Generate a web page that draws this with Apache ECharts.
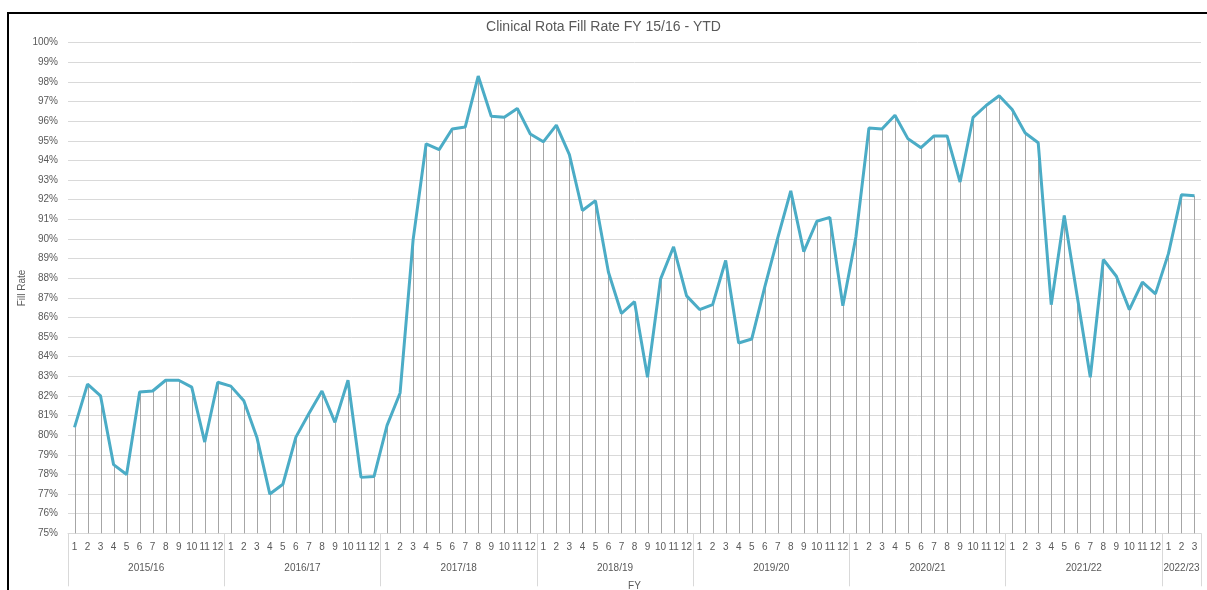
<!DOCTYPE html>
<html lang="en">
<head>
    <meta charset="utf-8">
    <title>Clinical Rota Fill Rate</title>
    <script src="https://cdn.jsdelivr.net/npm/echarts@6/dist/echarts.min.js"></script>
    <style>
        html, body { margin: 0; padding: 0; background: #fff; }
        #chart { width: 1207px; height: 590px; }
    </style>
</head>
<body>
<div id="chart"></div>
<script>
// fill rate (%) per month, one array per financial year
var fy1516 = [80.4, 82.6, 82.0, 78.5, 78.0, 82.2, 82.25, 82.8, 82.8, 82.45, 79.65, 82.7];
var fy1617 = [82.5, 81.75, 79.9, 77.0, 77.5, 79.9, 81.1, 82.25, 80.65, 82.8, 77.85, 77.9];
var fy1718 = [80.5, 82.15, 89.95, 94.85, 94.55, 95.6, 95.7, 98.3, 96.25, 96.2, 96.65, 95.35];
var fy1819 = [94.95, 95.8, 94.3, 91.45, 91.95, 88.3, 86.2, 86.8, 82.95, 87.95, 89.6, 87.1];
var fy1920 = [86.4, 86.65, 88.9, 84.7, 84.9, 87.55, 90.05, 92.45, 89.35, 90.9, 91.1, 86.6];
var fy2021 = [90.1, 95.65, 95.6, 96.3, 95.1, 94.65, 95.25, 95.25, 92.9, 96.2, 96.8, 97.3];
var fy2122 = [96.6, 95.4, 94.9, 86.65, 91.2, 87.05, 82.95, 88.95, 88.1, 86.4, 87.8, 87.2];
var fy2223 = [89.25, 92.25, 92.2];

var fyLabels = ['2015/16', '2016/17', '2017/18', '2018/19', '2019/20', '2020/21', '2021/22', '2022/23'];
var fyData = [fy1516, fy1617, fy1718, fy1819, fy1920, fy2021, fy2122, fy2223];

var yMin = 75, yMax = 100;

var months = [], values = [], groupEdges = [0], groupMids = [], midName = {};
var n = 0;
fyData.forEach(function (arr, g) {
    var start = n;
    arr.forEach(function (v, i) {
        months.push(String(i + 1));
        values.push(v);
        n++;
    });
    groupEdges.push(n);
    var mid = (start + n) / 2;
    groupMids.push(mid);
    midName[mid] = fyLabels[g];
});

var txt = '#595959';
var font = 'Liberation Sans';

var chart = echarts.init(document.getElementById('chart'));
chart.setOption({
    animation: false,
    textStyle: { fontFamily: font },
    title: {
        text: 'Clinical Rota Fill Rate FY 15/16 - YTD',
        left: 'center',
        top: 15,
        textStyle: { fontSize: 14, fontWeight: 'normal', color: txt, fontFamily: font }
    },
    graphic: [{
        type: 'rect',
        shape: { x: 8, y: 13, width: 1260, height: 640 },
        style: { fill: 'none', stroke: '#000', lineWidth: 2 },
        silent: true
    }, {
        // y axis title
        type: 'text',
        x: 22,
        y: 288,
        rotation: Math.PI / 2,
        style: {
            text: 'Fill Rate',
            fill: txt,
            font: '10px "Liberation Sans"',
            align: 'center',
            verticalAlign: 'middle'
        },
        silent: true
    }],
    grid: { left: 68, right: 6, top: 42.7, bottom: 56.7, outerBoundsMode: 'none', containLabel: false },
    xAxis: [{
        type: 'category',
        data: months,
        boundaryGap: true,
        axisLine: { lineStyle: { color: '#d9d9d9' } },
        axisTick: { show: false },
        axisLabel: { interval: 0, fontSize: 10, color: txt, margin: 9 }
    }, {
        type: 'value',
        min: 0,
        max: n,
        position: 'bottom',
        name: 'FY',
        nameLocation: 'middle',
        nameGap: 48,
        nameTextStyle: { fontSize: 10, color: txt },
        axisLine: { show: false },
        splitLine: { show: false },
        axisTick: {
            show: true,
            length: 53,
            customValues: groupEdges,
            lineStyle: { color: '#d9d9d9' }
        },
        axisLabel: {
            customValues: groupMids,
            fontSize: 10,
            color: txt,
            margin: 30,
            formatter: function (v) { return midName[v] || ''; }
        }
    }],
    yAxis: {
        type: 'value',
        min: yMin,
        max: yMax,
        interval: 1,
        axisLine: { show: false },
        axisTick: { show: false },
        axisLabel: { fontSize: 10, color: txt, margin: 10, formatter: function (v) { return v + '%'; } },
        splitLine: { lineStyle: { color: '#d9d9d9' } }
    },
    series: [{
        type: 'custom',
        xAxisIndex: 0,
        data: values.map(function (v, i) { return [i, v]; }),
        renderItem: function (params, api) {
            var top = api.coord([api.value(0), api.value(1)]);
            var bot = api.coord([api.value(0), yMin]);
            return {
                type: 'line',
                shape: { x1: Math.round(top[0]) + 0.5, y1: top[1], x2: Math.round(bot[0]) + 0.5, y2: bot[1] },
                style: { stroke: '#a6a6a6', lineWidth: 1 }
            };
        },
        z: 1
    }, {
        type: 'line',
        xAxisIndex: 0,
        data: values,
        symbol: 'none',
        lineStyle: { color: '#4bacc6', width: 3 },
        itemStyle: { color: '#4bacc6' },
        z: 3
    }]
});
</script>
</body>
</html>
